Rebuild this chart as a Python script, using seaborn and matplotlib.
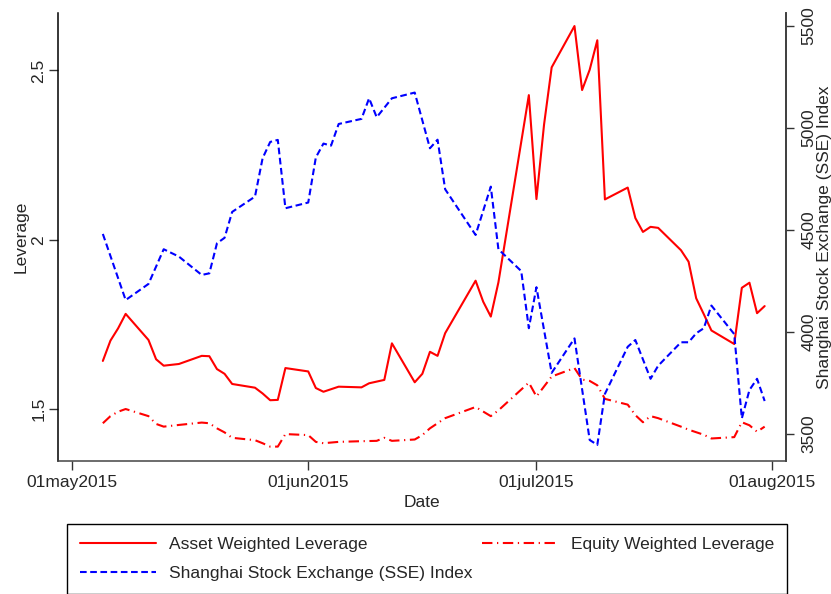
"""Leverage vs. Shanghai Stock Exchange index, May-Jul 2015."""

import matplotlib
matplotlib.use("Agg")
import matplotlib.pyplot as plt
import matplotlib.dates as mdates
import seaborn as sns
import pandas as pd

# 资产加权杠杆
asset_dates = [
    "2015-05-05", "2015-05-06", "2015-05-07", "2015-05-08", "2015-05-11",
    "2015-05-12", "2015-05-13", "2015-05-15", "2015-05-18", "2015-05-19",
    "2015-05-20", "2015-05-21", "2015-05-22", "2015-05-25", "2015-05-26",
    "2015-05-27", "2015-05-28", "2015-05-29", "2015-06-01", "2015-06-02",
    "2015-06-03", "2015-06-05", "2015-06-08", "2015-06-09", "2015-06-11",
    "2015-06-12", "2015-06-15", "2015-06-16", "2015-06-17", "2015-06-18",
    "2015-06-19", "2015-06-23", "2015-06-24", "2015-06-25", "2015-06-26",
    "2015-06-30", "2015-07-01", "2015-07-02", "2015-07-03", "2015-07-06",
    "2015-07-07", "2015-07-08", "2015-07-09", "2015-07-10", "2015-07-13",
    "2015-07-14", "2015-07-15", "2015-07-16", "2015-07-17", "2015-07-20",
    "2015-07-21", "2015-07-22", "2015-07-23", "2015-07-24", "2015-07-27",
    "2015-07-28", "2015-07-29", "2015-07-30", "2015-07-31",
]
asset_lev = [
    1.642, 1.702, 1.738, 1.781, 1.704,
    1.647, 1.628, 1.633, 1.657, 1.656,
    1.618, 1.604, 1.574, 1.563, 1.546,
    1.526, 1.527, 1.621, 1.611, 1.562,
    1.551, 1.566, 1.564, 1.576, 1.586,
    1.694, 1.579, 1.604, 1.669, 1.657,
    1.724, 1.879, 1.817, 1.773, 1.874,
    2.427, 2.120, 2.340, 2.509, 2.631,
    2.442, 2.502, 2.589, 2.119, 2.154,
    2.064, 2.023, 2.038, 2.035, 1.969,
    1.935, 1.827, 1.780, 1.732, 1.692,
    1.858, 1.873, 1.783, 1.804,
]

# 权益加权杠杆
equity_dates = [
    "2015-05-05", "2015-05-06", "2015-05-07", "2015-05-08", "2015-05-11",
    "2015-05-12", "2015-05-13", "2015-05-15", "2015-05-18", "2015-05-19",
    "2015-05-20", "2015-05-21", "2015-05-22", "2015-05-25", "2015-05-26",
    "2015-05-27", "2015-05-28", "2015-05-29", "2015-06-01", "2015-06-02",
    "2015-06-03", "2015-06-05", "2015-06-08", "2015-06-10", "2015-06-11",
    "2015-06-12", "2015-06-15", "2015-06-16", "2015-06-17", "2015-06-19",
    "2015-06-23", "2015-06-25", "2015-06-26", "2015-06-30", "2015-07-01",
    "2015-07-03", "2015-07-06", "2015-07-07", "2015-07-08", "2015-07-09",
    "2015-07-10", "2015-07-13", "2015-07-14", "2015-07-15", "2015-07-16",
    "2015-07-17", "2015-07-20", "2015-07-21", "2015-07-23", "2015-07-24",
    "2015-07-27", "2015-07-28", "2015-07-29", "2015-07-30", "2015-07-31",
]
equity_lev = [
    1.458, 1.479, 1.492, 1.500, 1.479,
    1.456, 1.448, 1.453, 1.460, 1.458,
    1.443, 1.431, 1.415, 1.408, 1.399,
    1.389, 1.389, 1.426, 1.423, 1.403,
    1.399, 1.403, 1.405, 1.406, 1.415,
    1.406, 1.410, 1.423, 1.443, 1.473,
    1.506, 1.479, 1.496, 1.578, 1.537,
    1.596, 1.621, 1.587, 1.583, 1.570,
    1.530, 1.513, 1.482, 1.461, 1.479,
    1.473, 1.448, 1.439, 1.424, 1.413,
    1.417, 1.461, 1.452, 1.433, 1.448,
]

# 上证指数
sse_dates = [
    "2015-05-05", "2015-05-08", "2015-05-11", "2015-05-13", "2015-05-15",
    "2015-05-18", "2015-05-19", "2015-05-20", "2015-05-21", "2015-05-22",
    "2015-05-25", "2015-05-26", "2015-05-27", "2015-05-28", "2015-05-29",
    "2015-06-01", "2015-06-02", "2015-06-03", "2015-06-04", "2015-06-05",
    "2015-06-08", "2015-06-09", "2015-06-10", "2015-06-12", "2015-06-15",
    "2015-06-17", "2015-06-18", "2015-06-19", "2015-06-23", "2015-06-25",
    "2015-06-26", "2015-06-29", "2015-06-30", "2015-07-01", "2015-07-03",
    "2015-07-06", "2015-07-08", "2015-07-09", "2015-07-10", "2015-07-13",
    "2015-07-14", "2015-07-16", "2015-07-17", "2015-07-20", "2015-07-21",
    "2015-07-22", "2015-07-23", "2015-07-24", "2015-07-27", "2015-07-28",
    "2015-07-29", "2015-07-30", "2015-07-31",
]
sse_index = [
    4479, 4155, 4234, 4404, 4368,
    4278, 4286, 4433, 4460, 4587,
    4662, 4850, 4930, 4940, 4605,
    4633, 4854, 4922, 4912, 5018,
    5043, 5144, 5051, 5144, 5172,
    4899, 4941, 4698, 4474, 4711,
    4404, 4297, 4017, 4218, 3798,
    3967, 3469, 3445, 3695, 3926,
    3959, 3769, 3833, 3948, 3948,
    3992, 4017, 4128, 3988, 3575,
    3714, 3769, 3660,
]

x_ticks = ["2015-05-01", "2015-06-01", "2015-07-01", "2015-08-01"]
left_ticks = [1.5, 2, 2.5]
left_tick_labels = ["1.5", "2", "2.5"]
right_ticks = [3500, 4000, 4500, 5000, 5500]

sns.set_theme(style="white")
plt.rcParams["font.family"] = ["Liberation Sans", "DejaVu Sans"]
FS = 12.5

asset_df = pd.DataFrame({"date": pd.to_datetime(asset_dates), "lev": asset_lev})
equity_df = pd.DataFrame({"date": pd.to_datetime(equity_dates), "lev": equity_lev})
sse_df = pd.DataFrame({"date": pd.to_datetime(sse_dates), "sse": sse_index})

fig = plt.figure(figsize=(8.31, 5.94), dpi=100)
ax = fig.add_axes([0.0702, 0.2239, 0.8756, 0.7542])
ax2 = ax.twinx()

sns.lineplot(data=asset_df, x="date", y="lev", ax=ax, color="#ff0000",
             linewidth=1.5, label="Asset Weighted Leverage", legend=False)
sns.lineplot(data=equity_df, x="date", y="lev", ax=ax, color="#ff0000",
             linewidth=1.5, linestyle=(0, (5, 2.2, 0.6, 2.2)),
             label="Equity Weighted Leverage", legend=False)
sns.lineplot(data=sse_df, x="date", y="sse", ax=ax2, color="#0000ff",
             linewidth=1.5, linestyle=(0, (3.2, 1.7)),
             label="Shanghai Stock Exchange (SSE) Index", legend=False)

# 坐标范围
base = mdates.date2num(pd.Timestamp("2015-05-01"))
ax.set_xlim(base - 1.85, base + 93.8)
ax.set_ylim(1.3465, 2.6695)
ax2.set_ylim(3366, 5562)

tick_dates = pd.to_datetime(x_ticks)
ax.set_xticks(tick_dates)
ax.set_xticklabels([d.strftime("%d%b%Y").lower() for d in tick_dates], fontsize=FS)
ax.set_yticks(left_ticks)
ax.set_yticklabels(left_tick_labels, fontsize=FS, rotation=90, va="center")
ax2.set_yticks(right_ticks)
ax2.set_yticklabels([str(v) for v in right_ticks], fontsize=FS, rotation=90, va="center")

ax.tick_params(axis="x", direction="out", length=6.5, width=1, color="#333333",
               bottom=True, pad=3.5)
ax.tick_params(axis="y", direction="out", length=6.5, width=1, color="#333333",
               left=True, pad=2)
ax2.tick_params(axis="y", direction="out", length=6, width=1, color="#333333",
                right=True, pad=5)

ax.set_xlabel("Date", fontsize=FS, labelpad=4)
ax.set_ylabel("Leverage", fontsize=FS, labelpad=2)
ax2.set_ylabel("Shanghai Stock Exchange (SSE) Index", fontsize=FS, labelpad=0.5)

for a in (ax, ax2):
    a.spines["top"].set_visible(False)
    a.grid(False)
ax.spines["left"].set_color("black")
ax.spines["bottom"].set_color("#444444")
ax2.spines["right"].set_color("#444444")
for s in ("left", "bottom"):
    ax.spines[s].set_linewidth(1.1)
ax2.spines["right"].set_linewidth(1.1)
ax2.spines["left"].set_visible(False)
ax2.spines["bottom"].set_visible(False)

# 图例
h1, h2 = ax.get_lines()[0], ax.get_lines()[1]
h3 = ax2.get_lines()[0]
leg = fig.legend([h1, h3, h2],
                 [h1.get_label(), h3.get_label(), h2.get_label()],
                 loc="upper left", ncol=2, mode="expand",
                 bbox_to_anchor=(67 / 831, 1 - 524 / 594, 720 / 831, 0),
                 fontsize=FS, frameon=True, fancybox=False, framealpha=1,
                 edgecolor="black", handlelength=4.4, handletextpad=0.7,
                 labelspacing=0.8, borderpad=0.75, borderaxespad=0)
leg.get_frame().set_linewidth(1.0)

fig.savefig("out.png", dpi=100)
plt.close(fig)
